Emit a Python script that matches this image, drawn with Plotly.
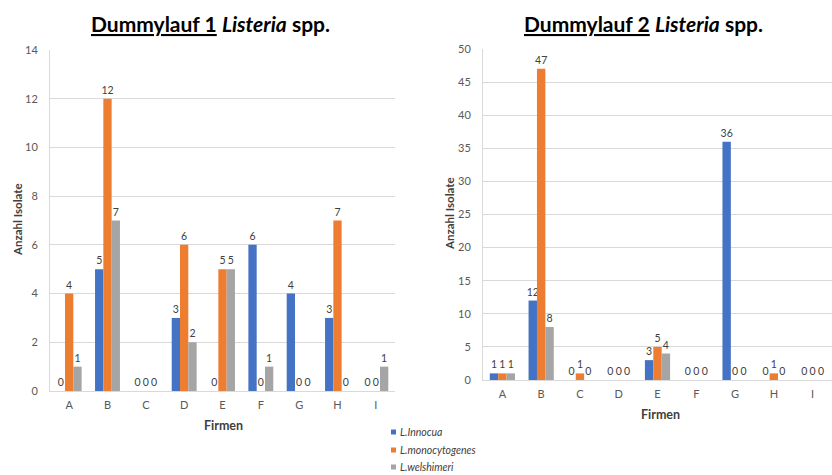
import plotly.graph_objects as go

firmen = ["A", "B", "C", "D", "E", "F", "G", "H", "I"]
arten = ["L.Innocua", "L.monocytogenes", "L.welshimeri"]
farben = ["#4472C4", "#ED7D31", "#A5A5A5"]

# Dummylauf 1
lauf1_innocua = [0, 5, 0, 3, 0, 6, 4, 3, 0]
lauf1_mono = [4, 12, 0, 6, 5, 0, 0, 7, 0]
lauf1_welsh = [1, 7, 0, 2, 5, 1, 0, 0, 1]

# Dummylauf 2
lauf2_innocua = [1, 12, 0, 0, 3, 0, 36, 0, 0]
lauf2_mono = [1, 47, 1, 0, 5, 0, 0, 1, 0]
lauf2_welsh = [1, 8, 0, 0, 4, 0, 0, 0, 0]

lauf1 = [lauf1_innocua, lauf1_mono, lauf1_welsh]
lauf2 = [lauf2_innocua, lauf2_mono, lauf2_welsh]

W, H = 832, 475
FONT = "Lato"
TXT = "#595959"
GRID = "#D9D9D9"

fig = go.Figure()

def add_bars(data, xa, ya):
    for vals, name, col in zip(data, arten, farben):
        fig.add_trace(go.Bar(
            x=firmen, y=vals, name=name, marker_color=col,
            marker_line_width=0, text=vals, textposition="outside",
            constraintext="none", cliponaxis=False, textangle=0,
            textfont=dict(size=10.5, color="#404040", family=FONT),
            xaxis=xa, yaxis=ya, showlegend=False,
        ))

add_bars(lauf1, "x", "y")
add_bars(lauf2, "x2", "y2")

def px_x(v):
    return v / W

def px_y(v):
    return 1 - v / H

axis_common = dict(
    tickfont=dict(size=11, color=TXT, family=FONT),
    ticks="", fixedrange=True, automargin=False,
)

fig.update_layout(
    width=W, height=H,
    margin=dict(l=0, r=0, t=0, b=0, autoexpand=False),
    paper_bgcolor="white", plot_bgcolor="white",
    barmode="group", bargap=0.35, bargroupgap=0,
    font=dict(family=FONT, color=TXT),
    showlegend=False,
    xaxis=dict(domain=[px_x(50), px_x(395)], anchor="y", showgrid=False,
               showline=True, linecolor=GRID, linewidth=1,
               ticklabelstandoff=4, **axis_common),
    yaxis=dict(domain=[px_y(391), px_y(50)], anchor="x", range=[0, 14],
               dtick=2, showgrid=True, gridcolor=GRID, gridwidth=1,
               showline=True, linecolor=GRID, zeroline=False,
               ticklabelstandoff=9, **axis_common),
    xaxis2=dict(domain=[px_x(483), px_x(832)], anchor="y2", showgrid=False,
                showline=True, linecolor=GRID, linewidth=1,
                ticklabelstandoff=4, **axis_common),
    yaxis2=dict(domain=[px_y(380), px_y(49)], anchor="x2", range=[0, 50],
                dtick=5, showgrid=True, gridcolor=GRID, gridwidth=1,
                showline=True, linecolor=GRID, zeroline=False,
                ticklabelstandoff=9, **axis_common),
)

annotations = [
    dict(text="<b><u>Dummylauf 1</u> <i>Listeria</i> spp.</b>", x=px_x(210), y=px_y(24),
         font=dict(size=21, color="#000000", family=FONT)),
    dict(text="<b><u>Dummylauf 2</u> <i>Listeria</i> spp.</b>", x=px_x(643), y=px_y(24),
         font=dict(size=21, color="#000000", family=FONT)),
    dict(text="<b>Firmen</b>", x=px_x(223), y=px_y(425),
         font=dict(size=12.5, color="#404040", family=FONT)),
    dict(text="<b>Firmen</b>", x=px_x(660), y=px_y(414),
         font=dict(size=12.5, color="#404040", family=FONT)),
    dict(text="<b>Anzahl Isolate</b>", x=px_x(17), y=px_y(220), textangle=-90,
         font=dict(size=11.5, color="#404040", family=FONT)),
    dict(text="<b>Anzahl Isolate</b>", x=px_x(449), y=px_y(214), textangle=-90,
         font=dict(size=11.5, color="#404040", family=FONT)),
]
for a in annotations:
    a.update(xanchor="center")

# shared legend below the charts: small square swatch + italic species name
shapes = []
leg_y = [432, 450, 467]
for name, col, yc in zip(arten, farben, leg_y):
    shapes.append(dict(type="rect", xref="paper", yref="paper",
                       x0=px_x(391), x1=px_x(396), y0=px_y(yc + 2.5), y1=px_y(yc - 2.5),
                       fillcolor=col, line=dict(width=0)))
    annotations.append(dict(text=f"<i>{name}</i>", x=px_x(397.5), y=px_y(yc),
                            xanchor="left",
                            font=dict(size=10.5, color="#404040", family=FONT)))

for a in annotations:
    a.update(xref="paper", yref="paper", showarrow=False, yanchor="middle")
fig.update_layout(annotations=annotations, shapes=shapes)

fig.write_html("out.html")
